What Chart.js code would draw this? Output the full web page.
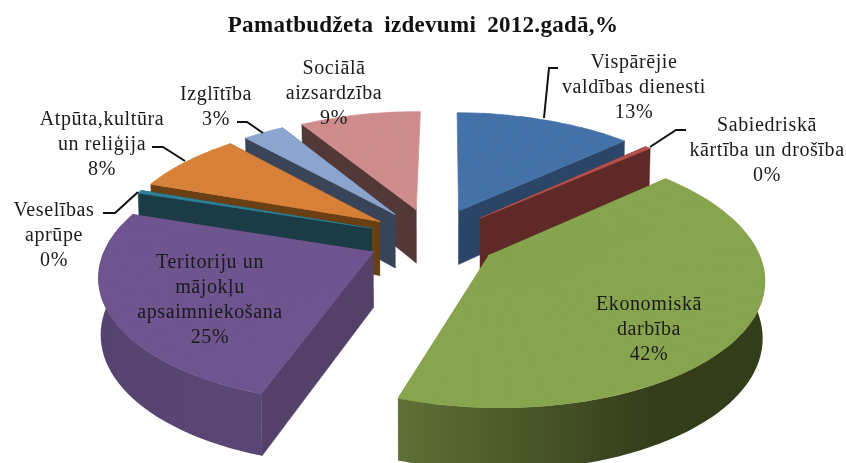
<!DOCTYPE html>
<html>
<head>
<meta charset="utf-8">
<style>html,body{margin:0;padding:0;background:#fff}canvas{display:block}</style>
<script src="https://cdn.jsdelivr.net/npm/chart.js@4"></script>
</head>
<body>
<canvas id="c" width="846" height="463"></canvas>
<script>
const categories = ['Vispārējie valdības dienesti','Sabiedriskā kārtība un drošība','Ekonomiskā darbība','Teritoriju un mājokļu apsaimniekošana','Veselības aprūpe','Atpūta,kultūra un reliģija','Izglītība','Sociālā aizsardzība'];
const shares = [12.9,0.4,41.7,24.9,0.4,7.9,3.0,8.8];
const titleText = 'Pamatbudžeta izdevumi 2012.gadā,%';

const faceColors = ['#4471A7','#B5504D','#87A44E','#6F5590','#2F8096','#D88138','#8CA5CF','#CE8C8C'];
const cutColors  = ['#2A4566','#5E2926','#5B6B33','#544068','#1B3C46','#6A3F14','#3A4459','#533838'];
const wallFrom   = ['#2A4566','#5E2926','#5F7036','#56436F','#1B3C46','#6A3F14','#3A4459','#533838'];
const wallTo     = ['#2A4566','#5E2926','#333D1A','#5A4674','#1B3C46','#6A3F14','#3A4459','#533838'];
const drawOrder  = [7,6,5,4,3,0,1,2];

const labelLines = [
  ['Vispārējie','valdības dienesti'],
  ['Sabiedriskā','kārtība un drošība'],
  ['Ekonomiskā','darbība'],
  ['Teritoriju un','mājokļu','apsaimniekošana'],
  ['Veselības','aprūpe'],
  ['Atpūta,kultūra','un reliģija'],
  ['Izglītība'],
  ['Sociālā','aizsardzība']
];
const labelX = [634,767,649,210,54,102,216,334];
const labelY = [63,126,305,263,211,120,95,69];
const labelStep = 25;
const leaders = [
  [[558,68],[549,68],[544,118]],
  [[686,130],[676,130],[650,147]],
  [[237,122],[247,122],[263,133]],
  [[152,147],[163,147],[185,161]],
  [[103,213],[115,213],[138,192]]
];

const view = {cx:433, cy:238, A:264, B:122, p:0.16, H:55, q:0.12, t:0.006};
const explode = 0.25;
const RAD = 180;
const startRotation = 0.5;

function project(X,Y,z){
  const w = 1 - view.p*Y;
  const s = 1 - view.t*z;
  return [view.cx + view.A*X/w*s, view.cy + view.B*Y/w + view.H*z*(1+view.q*Y)];
}

const pie3d = {
  id:'pie3d',
  beforeDatasetsDraw(chart){
    const ctx = chart.ctx;
    const arcs = chart.getDatasetMeta(0).data;
    drawOrder.forEach(i=>{
      const arc = arcs[i];
      const a0 = arc.startAngle, a1 = arc.endAngle, mid=(a0+a1)/2;
      const ox = Math.cos(mid)*explode, oy = Math.sin(mid)*explode;
      const pt = (ang,r,z)=>project(ox+r*Math.cos(ang), oy+r*Math.sin(ang), z);
      [a0,a1].forEach(a=>{
        // an edge pointing straight away from the viewer shows no wall
        if(Math.abs(Math.cos(a))<0.03 && Math.sin(a)<0) return;
        const q=[pt(a,0,0),pt(a,1,0),pt(a,1,1),pt(a,0,1)];
        ctx.beginPath(); q.forEach((p,k)=>k?ctx.lineTo(p[0],p[1]):ctx.moveTo(p[0],p[1])); ctx.closePath();
        ctx.fillStyle=cutColors[i]; ctx.fill();
        ctx.strokeStyle=cutColors[i]; ctx.lineWidth=0.5; ctx.stroke();
      });
      const b0=Math.max(a0,0), b1=Math.min(a1,Math.PI);
      if(b1>b0){
        const n=Math.max(2,Math.ceil((b1-b0)/0.04));
        const top=[],bot=[];
        for(let k=0;k<=n;k++){const a=b0+(b1-b0)*k/n; top.push(pt(a,1,0)); bot.push(pt(a,1,1));}
        const xs=top.concat(bot).map(p=>p[0]);
        const g=ctx.createLinearGradient(Math.min(...xs),0,Math.max(...xs),0);
        g.addColorStop(0,wallFrom[i]); g.addColorStop(0.7,wallTo[i]); g.addColorStop(1,wallTo[i]);
        ctx.beginPath();
        top.forEach((p,k)=>k?ctx.lineTo(p[0],p[1]):ctx.moveTo(p[0],p[1]));
        bot.reverse().forEach(p=>ctx.lineTo(p[0],p[1]));
        ctx.closePath(); ctx.fillStyle=g; ctx.fill();
      }
      // pink keeps a wall below its tip
      if(Math.abs(Math.cos(a1))<0.03 && Math.sin(a1)<0){
        const p0=pt(a1,0,0),p1=pt(a1,0,1),p2=pt(a0,0.02,1),p3=pt(a0,0.02,0);
        ctx.beginPath(); ctx.moveTo(p0[0],p0[1]); ctx.lineTo(p1[0],p1[1]); ctx.lineTo(p2[0],p2[1]); ctx.lineTo(p3[0],p3[1]); ctx.closePath();
        ctx.fillStyle=cutColors[i]; ctx.fill();
      }
      const steps=Math.max(1,Math.ceil((a1-a0)/0.12));
      for(let s=0;s<steps;s++){
        const s0=a0+(a1-a0)*s/steps, s1=a0+(a1-a0)*(s+1)/steps;
        const R=arc.outerRadius, x=arc.x, y=arc.y;
        const ux=R*Math.cos(s0), uy=R*Math.sin(s0), vx=R*Math.cos(s1), vy=R*Math.sin(s1);
        const D0=pt(0,0,0), D1=pt(s0,1,0), D2=pt(s1,1,0);
        const du=[D1[0]-D0[0],D1[1]-D0[1]], dv=[D2[0]-D0[0],D2[1]-D0[1]];
        const det=ux*vy-uy*vx;
        const a=(du[0]*vy-dv[0]*uy)/det, c=(dv[0]*ux-du[0]*vx)/det;
        const b=(du[1]*vy-dv[1]*uy)/det, d=(dv[1]*ux-du[1]*vx)/det;
        const e=D0[0]-a*x-c*y, f=D0[1]-b*x-d*y;
        const piece=new Chart.ArcElement({x,y,startAngle:s0,endAngle:s1+(s<steps-1?0.006:0),
          circumference:s1-s0+(s<steps-1?0.006:0),innerRadius:0,outerRadius:R,
          options:{...arc.options,offset:0,spacing:0,borderWidth:0.8,borderColor:faceColors[i],
            backgroundColor:faceColors[i],borderAlign:'center',borderRadius:0,circular:true,
            borderJoinStyle:'round',borderDash:[],borderDashOffset:0}});
        ctx.save(); ctx.transform(a,b,c,d,e,f); piece.draw(ctx); ctx.restore();
      }
    });
    return false;
  },
  afterDraw(chart){
    const ctx=chart.ctx;
    ctx.save();
    ctx.strokeStyle='#111'; ctx.lineWidth=2; ctx.lineJoin='miter';
    leaders.forEach(l=>{ctx.beginPath(); l.forEach((p,k)=>k?ctx.lineTo(p[0],p[1]):ctx.moveTo(p[0],p[1])); ctx.stroke();});
    ctx.fillStyle='#1a1a1a'; ctx.font='20px "Liberation Serif"'; ctx.letterSpacing='0.6px'; ctx.textAlign='center'; ctx.textBaseline='middle';
    categories.forEach((_,i)=>{
      const lines=labelLines[i].concat([Math.round(shares[i])+'%']);
      lines.forEach((t,k)=>ctx.fillText(t,labelX[i],labelY[i]+k*labelStep));
    });
    ctx.font='bold 23px "Liberation Serif"'; ctx.fillStyle='#111'; ctx.letterSpacing='0.3px';
    ctx.wordSpacing='5px';
    ctx.fillText(titleText,423,26);
    ctx.restore();
  }
};

new Chart(document.getElementById('c'),{
  type:'pie',
  data:{labels:categories,datasets:[{data:shares,backgroundColor:faceColors,borderWidth:0,radius:RAD,rotation:startRotation}]},
  options:{responsive:false,animation:false,
    plugins:{legend:{display:false},tooltip:{enabled:false},title:{display:false}}},
  plugins:[pie3d]
});
</script>
</body>
</html>
